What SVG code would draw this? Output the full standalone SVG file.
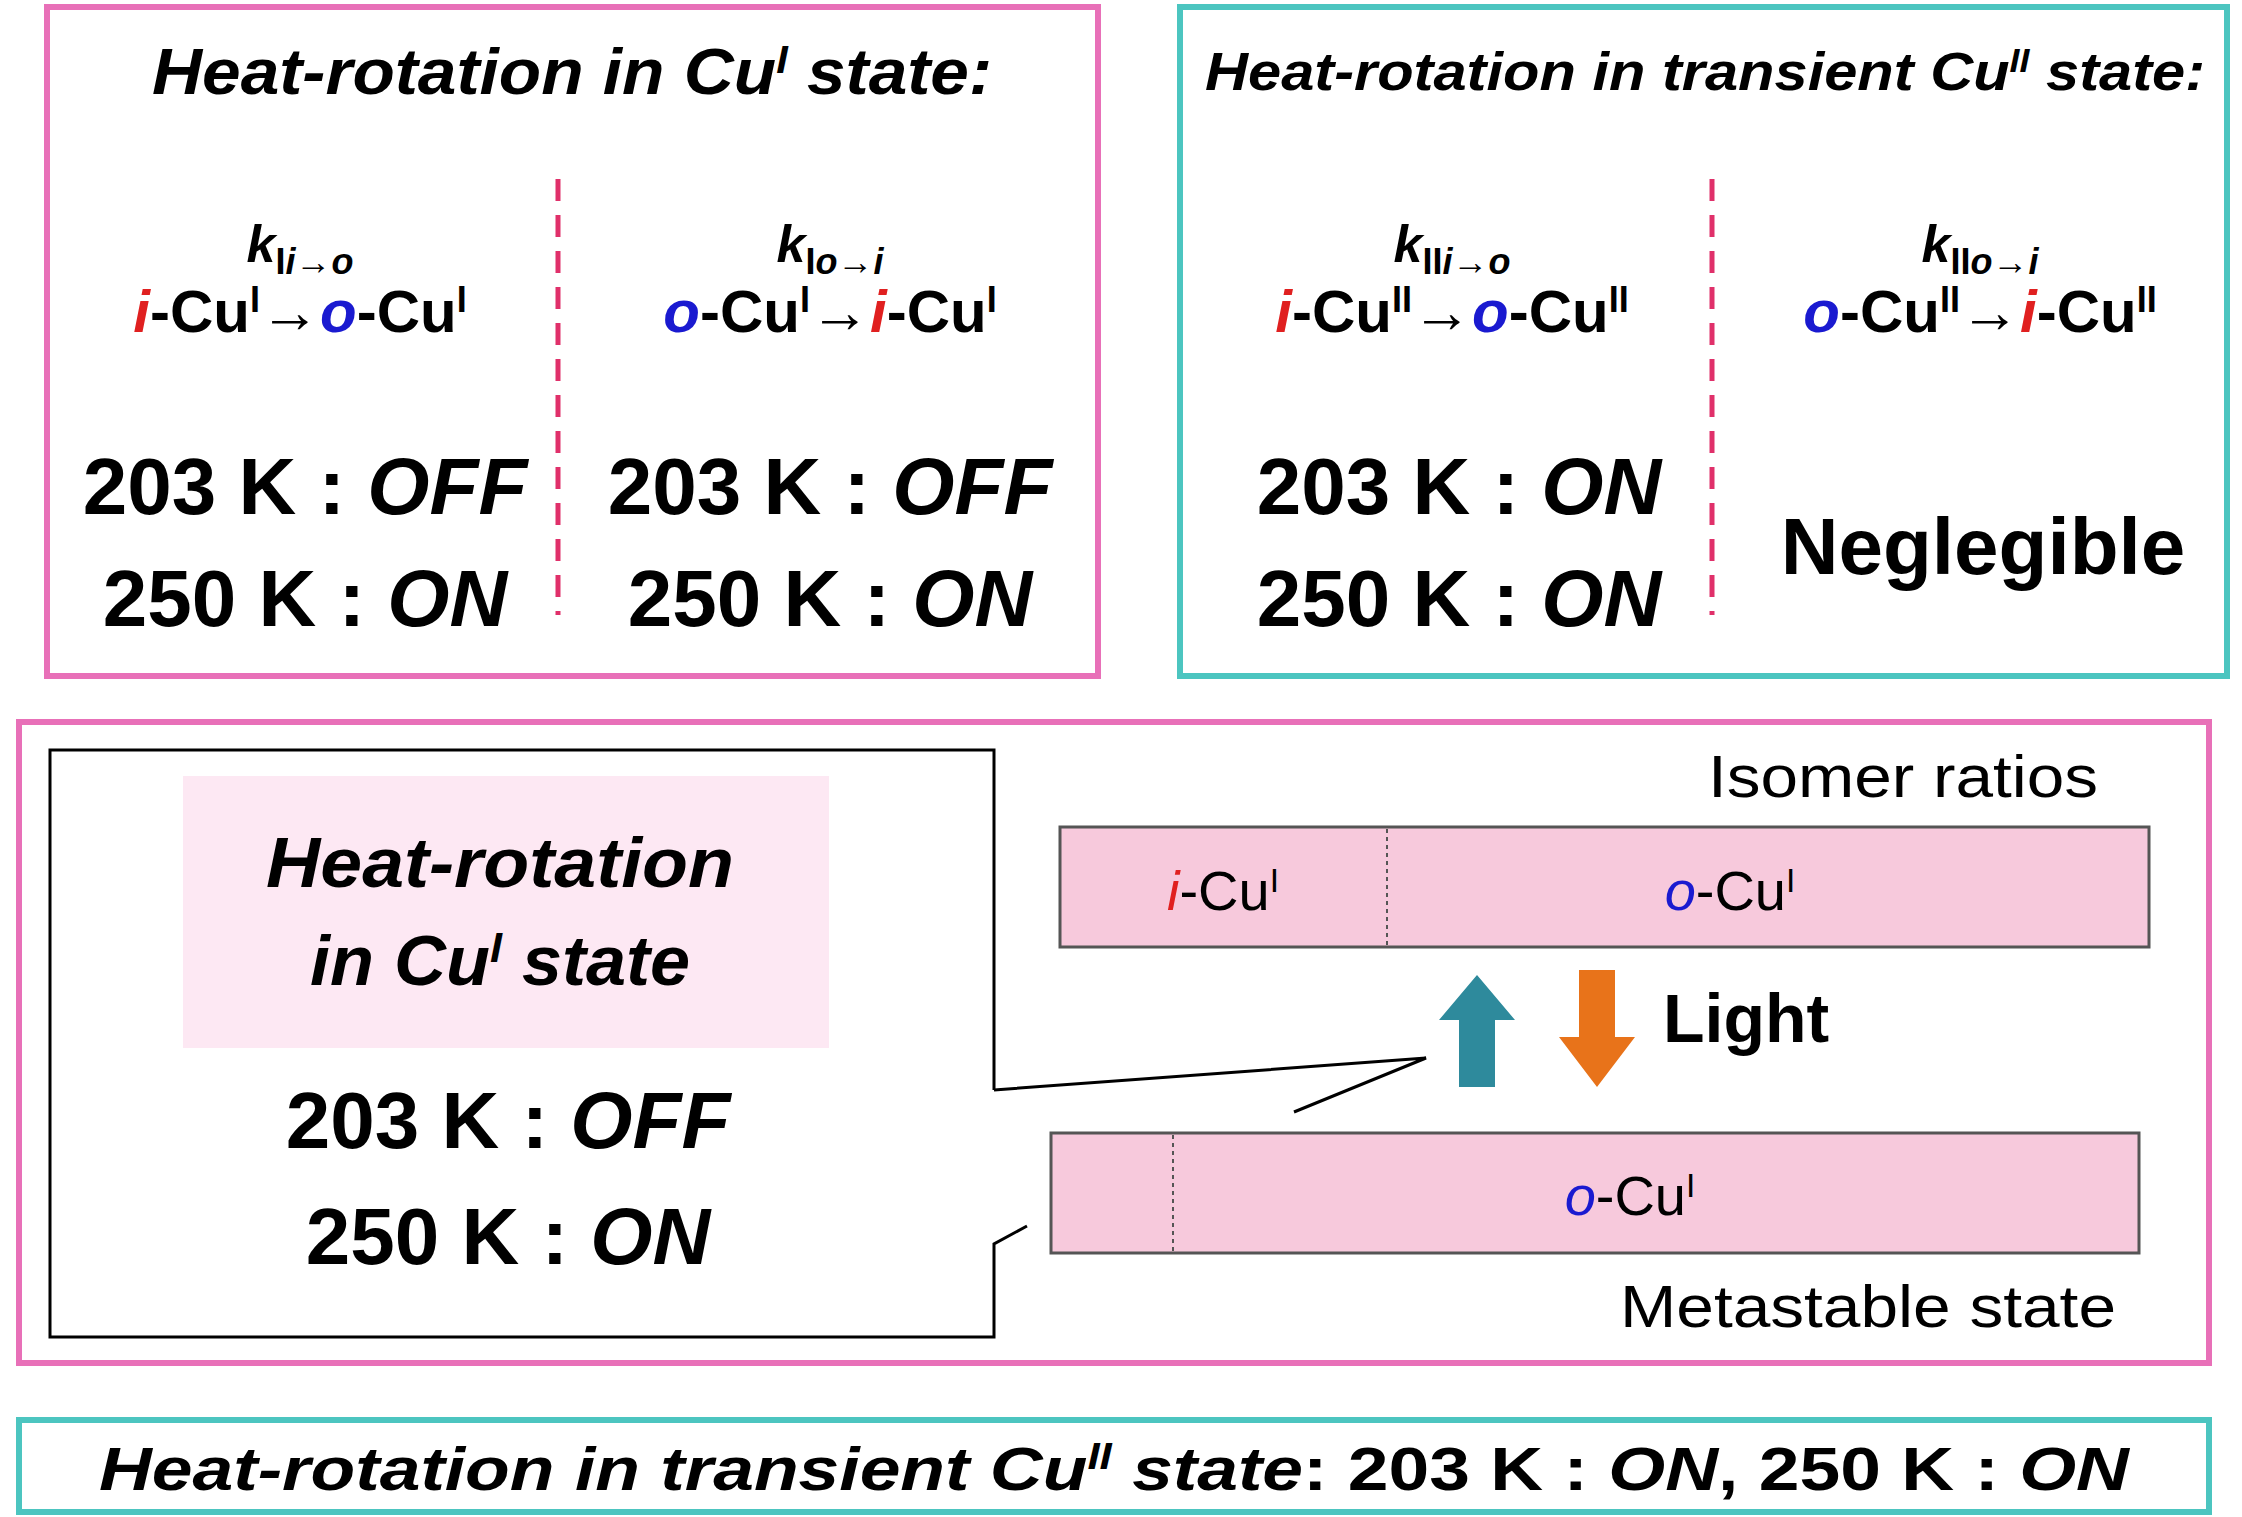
<svg xmlns="http://www.w3.org/2000/svg" width="2242" height="1517" viewBox="0 0 2242 1517">
<style>
text{font-family:"Liberation Sans",Arial,sans-serif;fill:#000}
.b{font-weight:bold}.it{font-style:italic}
.pk{fill:none;stroke:#e870b8;stroke-width:6}
.tl{fill:none;stroke:#4cc5c0;stroke-width:6}
.dash{stroke:#e0306a;stroke-width:5;stroke-dasharray:22 14}
.bar{fill:#f7c9dc;stroke:#555;stroke-width:3}
.div{stroke:#555;stroke-width:2;stroke-dasharray:4 4}
.r{fill:#e02020}.bl{fill:#1a1ad0}
.big{font-size:80px;font-weight:bold}
.eq{font-size:60px;font-weight:bold}
.k{font-size:52px;font-weight:bold}
.sup{font-size:60%}
.call{fill:none;stroke:#000;stroke-width:3}
</style>
<g id="box1">
<rect class="pk" x="47" y="7" width="1051" height="669"/>
<text x="572" y="94" text-anchor="middle" class="b it" font-size="64" textLength="840" lengthAdjust="spacingAndGlyphs">Heat-rotation in Cu<tspan class="sup" baseline-shift="super">I</tspan> state:</text>
<line class="dash" x1="558" y1="179" x2="558" y2="615"/>
<text x="300" y="262" text-anchor="middle" class="k"><tspan class="it">k</tspan><tspan font-size="36" dy="12">I<tspan class="it">i</tspan>→<tspan class="it">o</tspan></tspan></text>
<text x="300" y="332" text-anchor="middle" class="eq"><tspan class="r it">i</tspan>-Cu<tspan class="sup" baseline-shift="super">I</tspan>→<tspan class="bl it">o</tspan>-Cu<tspan class="sup" baseline-shift="super">I</tspan></text>
<text x="830" y="262" text-anchor="middle" class="k"><tspan class="it">k</tspan><tspan font-size="36" dy="12">I<tspan class="it">o</tspan>→<tspan class="it">i</tspan></tspan></text>
<text x="830" y="332" text-anchor="middle" class="eq"><tspan class="bl it">o</tspan>-Cu<tspan class="sup" baseline-shift="super">I</tspan>→<tspan class="r it">i</tspan>-Cu<tspan class="sup" baseline-shift="super">I</tspan></text>
<text x="305" y="514" text-anchor="middle" class="big">203 K : <tspan class="it">OFF</tspan></text>
<text x="305" y="626" text-anchor="middle" class="big">250 K : <tspan class="it">ON</tspan></text>
<text x="830" y="514" text-anchor="middle" class="big">203 K : <tspan class="it">OFF</tspan></text>
<text x="830" y="626" text-anchor="middle" class="big">250 K : <tspan class="it">ON</tspan></text>
</g>
<g id="box2">
<rect class="tl" x="1180" y="7" width="1047" height="669"/>
<text x="1705" y="90" text-anchor="middle" class="b it" font-size="54" textLength="1000" lengthAdjust="spacingAndGlyphs">Heat-rotation in transient Cu<tspan class="sup" baseline-shift="super">II</tspan> state:</text>
<line class="dash" x1="1712" y1="179" x2="1712" y2="615"/>
<text x="1452" y="262" text-anchor="middle" class="k"><tspan class="it">k</tspan><tspan font-size="36" dy="12">II<tspan class="it">i</tspan>→<tspan class="it">o</tspan></tspan></text>
<text x="1452" y="332" text-anchor="middle" class="eq"><tspan class="r it">i</tspan>-Cu<tspan class="sup" baseline-shift="super">II</tspan>→<tspan class="bl it">o</tspan>-Cu<tspan class="sup" baseline-shift="super">II</tspan></text>
<text x="1980" y="262" text-anchor="middle" class="k"><tspan class="it">k</tspan><tspan font-size="36" dy="12">II<tspan class="it">o</tspan>→<tspan class="it">i</tspan></tspan></text>
<text x="1980" y="332" text-anchor="middle" class="eq"><tspan class="bl it">o</tspan>-Cu<tspan class="sup" baseline-shift="super">II</tspan>→<tspan class="r it">i</tspan>-Cu<tspan class="sup" baseline-shift="super">II</tspan></text>
<text x="1459" y="514" text-anchor="middle" class="big">203 K : <tspan class="it">ON</tspan></text>
<text x="1459" y="626" text-anchor="middle" class="big">250 K : <tspan class="it">ON</tspan></text>
<text x="1983" y="574" text-anchor="middle" class="big" font-size="74">Neglegible</text>
</g>
<g id="box3">
<rect class="pk" x="19" y="722" width="2190" height="641"/>
<rect x="183" y="776" width="646" height="272" fill="#fde8f3"/>
<text x="500" y="887" text-anchor="middle" class="b it" font-size="70" textLength="468" lengthAdjust="spacingAndGlyphs">Heat-rotation</text>
<text x="500" y="985" text-anchor="middle" class="b it" font-size="70" textLength="380" lengthAdjust="spacingAndGlyphs">in Cu<tspan class="sup" baseline-shift="super">I</tspan> state</text>
<text x="508" y="1148" text-anchor="middle" class="big" font-size="78">203 K : <tspan class="it">OFF</tspan></text>
<text x="508" y="1264" text-anchor="middle" class="big" font-size="78">250 K : <tspan class="it">ON</tspan></text>
</g>
<g id="bars">
<text x="2098" y="797" text-anchor="end" font-size="60" fill="#222" textLength="390" lengthAdjust="spacingAndGlyphs">Isomer ratios</text>
<rect class="bar" x="1060" y="827" width="1089" height="120"/>
<line class="div" x1="1387" y1="829" x2="1387" y2="945"/>
<text x="1223" y="910" text-anchor="middle" font-size="56"><tspan class="r it">i</tspan>-Cu<tspan class="sup" baseline-shift="super">I</tspan></text>
<text x="1730" y="910" text-anchor="middle" font-size="56"><tspan class="bl it">o</tspan>-Cu<tspan class="sup" baseline-shift="super">I</tspan></text>
<rect class="bar" x="1051" y="1133" width="1088" height="120"/>
<line class="div" x1="1173" y1="1135" x2="1173" y2="1251"/>
<text x="1630" y="1215" text-anchor="middle" font-size="56"><tspan class="bl it">o</tspan>-Cu<tspan class="sup" baseline-shift="super">I</tspan></text>
<text x="2116" y="1327" text-anchor="end" font-size="60" fill="#222" textLength="496" lengthAdjust="spacingAndGlyphs">Metastable state</text>
<path d="M1459 1087 V1020 H1439 L1477 975 L1515 1020 H1495 V1087 Z" fill="#2e8a9c"/>
<path d="M1579 970 V1037 H1559 L1597 1087 L1635 1037 H1615 V970 Z" fill="#e8731a"/>
<text x="1663" y="1042" class="b" font-size="68">Light</text>
</g>
<g id="connectors">
<path class="call" d="M994 1090 V750 H50 V1337 H994 V1244 L1027 1226"/>
<path class="call" d="M994 1090 L1426 1058 L1294 1112"/>
</g>
<g id="box4">
<rect class="tl" x="19" y="1420" width="2190" height="92"/>
<text x="1114" y="1490" text-anchor="middle" font-size="62" class="b" textLength="2030" lengthAdjust="spacingAndGlyphs"><tspan class="it">Heat-rotation in transient Cu<tspan class="sup" baseline-shift="super">II</tspan> state</tspan>: 203 K : <tspan class="it">ON</tspan>, 250 K : <tspan class="it">ON</tspan></text>
</g>
</svg>
